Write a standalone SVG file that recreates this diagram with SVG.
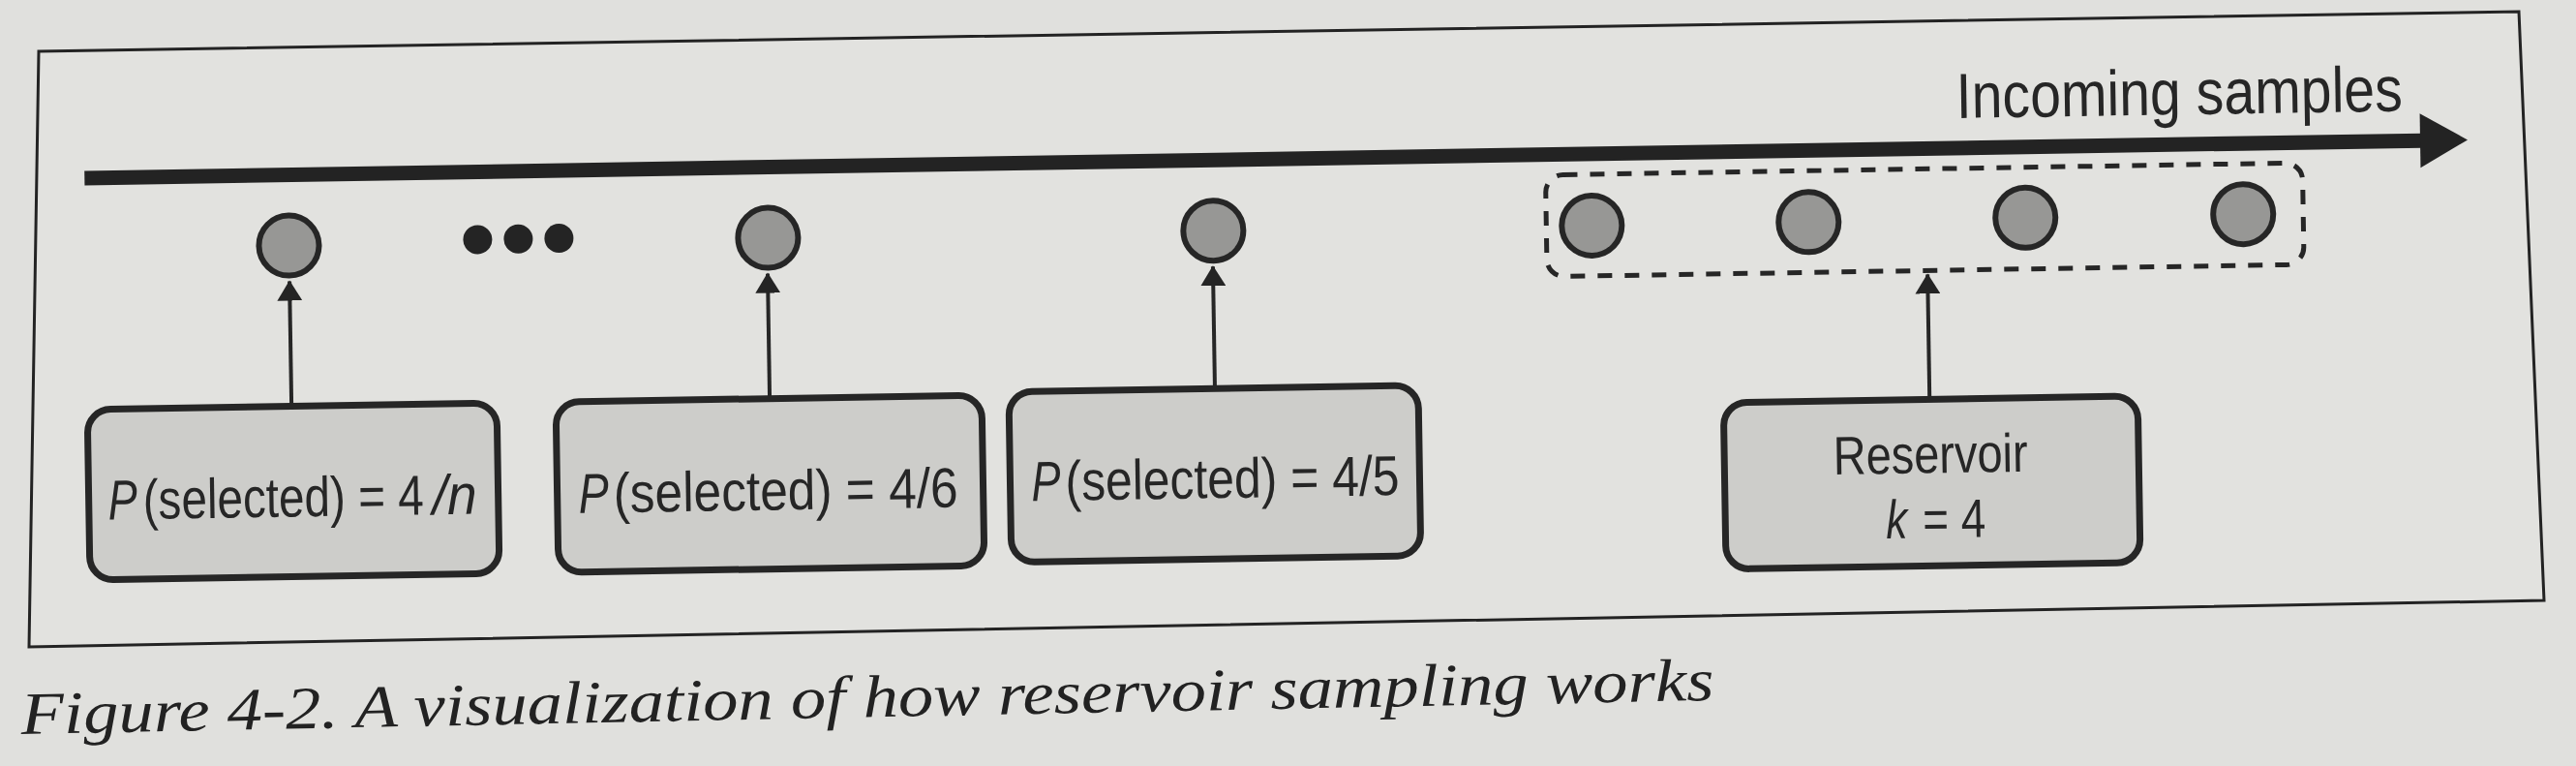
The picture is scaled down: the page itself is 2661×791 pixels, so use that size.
<svg xmlns="http://www.w3.org/2000/svg" width="2661" height="791" viewBox="0 0 2661 791">
<defs>
<marker id="ah" markerUnits="userSpaceOnUse" markerWidth="22" markerHeight="26" refX="20" refY="13" orient="auto">
<path d="M0,0 L21,13 L0,26 Z" fill="#242424"/>
</marker>
<style>
.box{fill:#cdcdca;stroke:#262626;stroke-width:7}
.smp{fill:#979795;stroke:#262626;stroke-width:6}
.dot{fill:#242424}
.lbl{font-family:"Liberation Sans Narrow","Liberation Sans","Open Sans",sans-serif;font-size:58px;fill:#262626}
.it{font-style:italic}
.conn{stroke:#262626;stroke-width:4;fill:none}
.cap{font-family:"Liberation Serif","DejaVu Serif",serif;font-style:italic;font-size:62px;fill:#222}
</style>
</defs>
<rect x="0" y="0" width="2661" height="791" fill="#e0e0dd"/>
<polygon id="frame" points="40,53 2602,12 2628,620 30,668" fill="#e2e2df" stroke="#232323" stroke-width="3"/>
<g transform="rotate(-0.92 1330 340)">
<g id="connectors">
<line x1="90" y1="164" x2="2505" y2="164" stroke="#232323" stroke-width="15"/>
<polygon points="2503,136 2552,164 2503,192" fill="#232323"/>
<line class="conn" x1="300" y1="403" x2="300" y2="274" marker-end="url(#ah)"/>
<line class="conn" x1="794" y1="403" x2="794" y2="274" marker-end="url(#ah)"/>
<line class="conn" x1="1254" y1="400" x2="1254" y2="274" marker-end="url(#ah)"/>
<line class="conn" x1="1992" y1="423" x2="1992" y2="294" marker-end="url(#ah)"/>
</g>
<text id="title" class="lbl" x="2255" y="133" text-anchor="middle" textLength="461" lengthAdjust="spacingAndGlyphs" style="font-size:66px">Incoming samples</text>
<g id="sample1"><circle class="smp" cx="300" cy="237" r="31"/></g>
<g id="ellipsis"><circle class="dot" cx="495" cy="234" r="15"/><circle class="dot" cx="537" cy="234" r="15"/><circle class="dot" cx="579" cy="234" r="15"/></g>
<g id="sample2"><circle class="smp" cx="795" cy="237" r="31"/></g>
<g id="sample3"><circle class="smp" cx="1255" cy="237" r="31"/></g>
<g id="reservoir-samples">
<rect x="1599" y="185" width="782" height="105" rx="18" fill="none" stroke="#262626" stroke-width="5" stroke-dasharray="15 13"/>
<circle class="smp" cx="1646" cy="238" r="31"/>
<circle class="smp" cx="1870" cy="238" r="31"/>
<circle class="smp" cx="2094" cy="237" r="31"/>
<circle class="smp" cx="2319" cy="237" r="31"/>
</g>
<g id="box1">
<rect class="box" x="89" y="403" width="423" height="176" rx="24"/>
<text class="lbl it" x="109" y="517" textLength="30" lengthAdjust="spacingAndGlyphs">P</text>
<text class="lbl" x="145" y="517" textLength="290" lengthAdjust="spacingAndGlyphs">(selected) = 4</text>
<text class="lbl it" x="444" y="517" textLength="46" lengthAdjust="spacingAndGlyphs">/n</text>
</g>
<g id="box2">
<rect class="box" x="573" y="403" width="440" height="176" rx="24"/>
<text class="lbl it" x="595" y="518" textLength="31" lengthAdjust="spacingAndGlyphs">P</text>
<text class="lbl" x="631" y="518" textLength="356" lengthAdjust="spacingAndGlyphs">(selected) = 4/6</text>
</g>
<g id="box3">
<rect class="box" x="1041" y="400" width="423" height="176" rx="24"/>
<text class="lbl it" x="1063" y="513" textLength="30" lengthAdjust="spacingAndGlyphs">P</text>
<text class="lbl" x="1098" y="513" textLength="345" lengthAdjust="spacingAndGlyphs">(selected) = 4/5</text>
</g>
<g id="reservoir">
<rect class="box" x="1779" y="423" width="428" height="172" rx="24"/>
<text class="lbl" x="1992" y="499" text-anchor="middle" textLength="201" lengthAdjust="spacingAndGlyphs" style="font-size:56px">Reservoir</text>
<text class="lbl it" x="1945" y="566" textLength="22" lengthAdjust="spacingAndGlyphs" style="font-size:56px">k</text>
<text class="lbl" x="1983" y="566" textLength="65" lengthAdjust="spacingAndGlyphs" style="font-size:56px">= 4</text>
</g>
</g>
<text id="caption" class="cap" x="22" y="758" textLength="1749" lengthAdjust="spacingAndGlyphs" transform="rotate(-1.15 22 758)">Figure 4-2. A visualization of how reservoir sampling works</text>
</svg>
